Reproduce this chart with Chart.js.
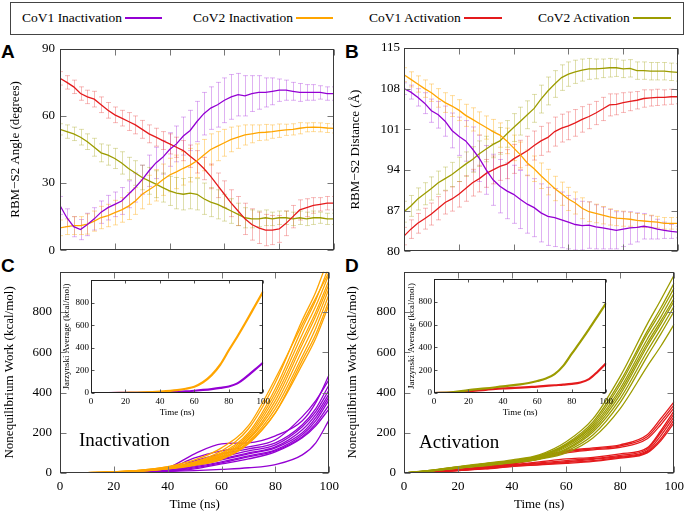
<!DOCTYPE html>
<html><head><meta charset="utf-8">
<script src="https://cdn.jsdelivr.net/npm/chart.js@4.4.1/dist/chart.umd.min.js"></script>
<style>
html,body{margin:0;padding:0;background:#fff;width:690px;height:514px;overflow:hidden;position:relative;font-family:'Liberation Serif','Times New Roman',serif;}
canvas{position:absolute;}
.t{position:absolute;white-space:nowrap;color:#000;}
.leg{font-size:13.5px;line-height:16px;top:10px;}
.ls{position:absolute;height:2px;top:17px;}
.letter{position:absolute;font-family:'Liberation Sans',Arial,sans-serif;font-weight:bold;font-size:19px;line-height:19px;color:#000;}
.big{font-size:19px;line-height:19px;}
#legbox{position:absolute;left:10px;top:2px;width:672px;height:31px;border:1px solid #444;}
</style>
</head><body>
<div id="legbox"></div>
<div class="t leg" style="left:22px">CoV1 Inactivation</div><div class="ls" style="left:125px;width:37px;background:#9400d3"></div>
<div class="t leg" style="left:193px">CoV2 Inactivation</div><div class="ls" style="left:296px;width:37px;background:#ffa500"></div>
<div class="t leg" style="left:369px">CoV1 Activation</div><div class="ls" style="left:464px;width:38px;background:#e41a1c"></div>
<div class="t leg" style="left:538px">CoV2 Activation</div><div class="ls" style="left:633px;width:38px;background:#9c9c00"></div>
<div class="letter" style="left:1px;top:42px">A</div>
<div class="letter" style="left:345px;top:42px">B</div>
<div class="letter" style="left:1px;top:256px">C</div>
<div class="letter" style="left:345px;top:256px">D</div>
<script>
// ---------- data ----------
const timeAB = [0,2.5,5,7.5,10,12.5,15,17.5,20,22.5,25,27.5,30,32.5,35,37.5,40,42.5,45,47.5,50,52.5,55,57.5,60,62.5,65,67.5,70,72.5,75,77.5,80,82.5,85,87.5,90,92.5,95,97.5,100];

const angleCoV1Inact = [20,14.5,10.5,9.2,11.5,14,17,19,20.5,22,25,28,31.5,35.5,39,41.5,45,47.5,51,53.5,57.5,61,63.5,65,67,68.5,69.5,69,70,70.5,70.5,71,71.5,71.5,71,70.5,70.5,70.5,70.5,70,70];
const angleCoV1InactErr = [4,4,4.5,4.5,5,5,5,5.5,5.5,6,6,6.5,6.5,7,7,7.5,7.5,8,8.5,9,9,9.5,9.5,10,10,10,9.5,9,8,7.5,6.5,6,5,4.5,4,4,3.5,3.5,3,3,3];
const angleCoV2Inact = [10,10.5,11,11,11.7,13,14.6,15.5,16.8,18,19.7,22,25,27,29,31.5,33.6,35,36.6,38,40,42.5,45,46.5,48,49.5,50.5,51.5,52,52.5,52.7,53,53.4,53.8,54,54.5,54.9,55,54.9,54.6,54.4];
const angleCoV2InactErr = [3.5,3.5,4,4,4.5,4.5,5,5,5.5,5.5,6,6,6.5,6.5,7,7,7.5,7.5,7.5,7.5,7.5,7,7,6.5,6,5.5,5,4.5,4,3.5,3.5,3,3,2.5,2.5,2.5,2,2,2,2,2];
const angleCoV1Act = [76.8,75,73,70,68.5,67.5,65,62.5,60.5,59,57.5,56,54,52,50.5,49,47.5,46,44.5,42,39.5,36.5,33,29,25,21,17.5,14,11.5,10,9,9,9.5,12,15,18,19,20,20.5,21,21];
const angleCoV1ActErr = [3,3,3,3,3,3.5,3.5,3.5,3.5,3.5,4,4,4,4,4,4,4.5,4.5,4.5,5,5,5,5.5,5.5,6,6,6.5,7,7,7,7,6.5,6,5.5,5,4.5,4,3.5,3,3,3];
const angleCoV2Act = [54,53,52,50.5,48.5,46,43.5,42.5,41,39,36.5,34.5,32.5,31,29.5,28,26.5,25.5,25,25.5,25,23,21.5,20.5,19,17.5,16,14.5,14,14,14.5,14,14.5,14.5,14,14.5,14,14.5,14.5,14,14];
const angleCoV2ActErr = [2.5,3,3,3.5,3.5,4,4,4.5,4.5,5,5,5.5,5.5,6,6,6.5,6.5,7,7,7,7,7,6.5,6.5,6,5.5,5,4.5,4,3.5,3.5,3,3,3,3,3,3,3,2.5,2.5,2.5];

const distCoV1Inact = [108,107.4,106.5,105.5,104.2,103.5,102.4,100.8,99.8,99,97.6,96,94,92.3,91.2,90.4,89.8,88.9,88.1,87.5,86.6,86,85.8,85.4,85,84.6,84.4,84.5,84.2,84,83.8,83.6,83.8,84,84.1,84.3,84.1,83.8,83.6,83.4,83.3];
const distCoV1InactErr = [1,1.2,1.5,1.8,2,2.3,2.6,3,3.3,3.5,3.8,4,4.2,4.4,4.6,4.8,5,5,5,5,5,5,5,4.8,4.6,4.4,4.2,4,3.8,3.6,3.4,3.2,3,2.8,2.5,2.2,2,1.7,1.4,1.2,1];
const distCoV2Inact = [110.4,109.6,108.8,108,107.3,106.4,105.6,105,104.3,103.4,102.7,102,101.3,100.6,100,99,97.8,96.6,95.2,94.2,93,91.9,90.8,89.9,89,88.3,87.4,86.8,86.5,86.2,85.9,85.7,85.6,85.5,85.3,85.2,85.1,85,84.8,84.8,84.8];
const distCoV2InactErr = [1.2,1.3,1.4,1.5,1.5,1.6,1.7,1.8,1.8,1.9,2,2,2,2.1,2.1,2.2,2.2,2.2,2.2,2.2,2.2,2.2,2.1,2,2,1.9,1.8,1.7,1.6,1.5,1.4,1.3,1.3,1.2,1.2,1.1,1.1,1,1,1,1];
const distCoV1Act = [82.6,83.8,84.8,85.6,86.4,87.4,88.4,89,89.8,90.8,91.8,92.5,93.4,94,94.6,95,95.9,96.6,97.3,98.2,99,99.6,100.6,101.2,101.6,102.1,102.7,103.2,103.8,104.5,105.2,105.3,105.6,105.8,106,106.3,106.4,106.5,106.5,106.6,106.6];
const distCoV1ActErr = [1.5,1.6,1.7,1.8,1.9,2,2,2.1,2.2,2.2,2.3,2.3,2.4,2.4,2.4,2.5,2.5,2.5,2.5,2.5,2.5,2.5,2.5,2.4,2.4,2.3,2.2,2.1,2,2,1.9,1.8,1.7,1.6,1.5,1.5,1.4,1.4,1.3,1.3,1.2];
const distCoV2Act = [86.8,87.8,89,89.9,90.8,91.8,92.5,93.2,94.1,95,95.8,96.8,97.6,98.4,99,100.2,101.3,102.4,103.5,104.6,106.2,107.6,108.8,109.9,110.5,110.9,111.2,111.4,111.4,111.5,111.6,111.6,111.4,111.5,111.1,111.1,111,111,111,110.9,110.8];
const distCoV2ActErr = [1.8,1.8,1.9,1.9,2,2,2,2.1,2.1,2.1,2.2,2.2,2.2,2.3,2.3,2.3,2.4,2.4,2.4,2.4,2.4,2.4,2.3,2.2,2.1,2,1.9,1.8,1.7,1.6,1.6,1.5,1.5,1.5,1.5,1.5,1.5,1.5,1.5,1.5,1.5];

const timeWork = [0,10,20,30,40,50,60,70,80,90,95,100];
const workCoV2Inact = [
  [0,2,6,14,30,55,110,220,450,760,900,1080],
  [0,2,6,13,28,52,100,200,420,720,860,1030],
  [0,2,5,12,26,50,95,190,400,690,830,990],
  [0,2,5,12,25,48,90,180,380,660,800,960],
  [0,1,5,11,24,46,85,170,360,640,780,940],
  [0,1,4,11,23,44,80,165,340,610,750,920],
  [0,1,4,10,22,42,75,155,320,580,720,890],
  [0,1,4,10,21,40,70,150,300,560,690,860],
  [0,1,4,10,20,38,68,145,300,540,670,840],
  [0,2,6,14,32,65,125,235,470,740,870,1000]
];
const workCoV1Inact = [
  [0,1,3,6,25,95,145,150,185,260,350,490],
  [0,1,3,6,20,75,110,130,165,280,360,465],
  [0,1,3,6,15,60,95,120,150,240,320,440],
  [0,1,2,5,12,45,80,110,140,230,305,415],
  [0,1,2,5,12,40,70,100,130,215,290,395],
  [0,1,2,5,10,35,65,95,125,200,275,380],
  [0,1,2,4,10,30,55,85,115,190,260,365],
  [0,1,2,4,8,25,50,80,110,180,245,340],
  [0,1,2,4,8,20,45,70,105,175,235,320],
  [0,1,2,4,8,12,18,26,42,90,150,265]
];
const workCoV2Act = [
  [0,14,32,48,65,90,155,270,480,740,860,985],
  [0,13,30,46,62,86,145,255,455,705,820,945],
  [0,13,30,45,60,84,140,245,440,690,800,920],
  [0,12,28,44,58,80,135,235,420,665,775,895],
  [0,12,28,42,57,78,128,225,405,645,755,870],
  [0,11,26,40,55,75,120,215,390,630,740,855],
  [0,11,26,40,54,72,115,205,370,605,715,830],
  [0,10,24,38,52,70,108,190,350,580,690,805],
  [0,10,24,36,50,68,100,175,320,530,630,740]
];
const workCoV1Act = [
  [0,6,18,32,48,80,110,125,140,190,270,355],
  [0,6,17,30,46,75,105,120,135,180,255,340],
  [0,5,16,28,44,70,100,115,128,170,240,325],
  [0,5,15,26,40,55,70,78,95,125,210,310],
  [0,5,14,25,38,50,62,72,88,118,200,295],
  [0,4,13,24,36,46,56,68,82,110,185,280],
  [0,4,12,22,34,42,52,62,78,105,170,265],
  [0,4,12,20,32,40,48,58,74,100,160,250]
];

const timeJar = [0,10,20,30,40,50,55,60,65,70,75,80,85,90,95,100];
const jarCoV2Inact = [0,0,2,5,12,25,38,56,95,158,250,378,500,630,765,900];
const jarCoV1Inact = [0,0,1,2,5,10,14,20,27,35,45,58,85,140,204,270];
const jarCoV2Act = [0,5,25,40,58,75,88,105,127,165,238,345,450,560,675,790];
const jarCoV1Act = [0,3,17,28,40,48,52,56,62,68,73,80,92,122,187,262];

const timeTicks = [0,20,40,60,80,100];
const timeTickLabels = ['0','20','40','60','80','100'];
const angleTicks = [0,30,60,90];
const angleTickLabels = ['0','30','60','90'];
const distTicks = [80,87,94,101,108,115];
const distTickLabels = ['80','87','94','101','108','115'];
const workTicks = [0,200,400,600,800,1000];
const workTickLabels = ['0','200','400','600','800',''];

const C_PURPLE = '#9400d3', C_ORANGE = '#ffa500', C_RED = '#e41a1c', C_OLIVE = '#9c9c00';
const E_PURPLE = 'rgba(148,0,211,0.30)', E_ORANGE = 'rgba(255,165,0,0.38)', E_RED = 'rgba(228,26,28,0.30)', E_OLIVE = 'rgba(156,156,0,0.32)';
const SERIF = "'Liberation Serif','Times New Roman',serif";

// ---------- plugins ----------
const errorBarPlugin = {
  id: 'errbars',
  beforeDatasetsDraw(chart) {
    const {ctx, chartArea: a} = chart;
    const xs = chart.scales.x, ys = chart.scales.y;
    ctx.save();
    ctx.beginPath(); ctx.rect(a.left, a.top, a.right - a.left, a.bottom - a.top); ctx.clip();
    chart.data.datasets.forEach(ds => {
      if (!ds.errors) return;
      ctx.strokeStyle = ds.errorColor; ctx.lineWidth = 1;
      ds.data.forEach((p, i) => {
        const e = ds.errors[i];
        const px = Math.round(xs.getPixelForValue(p.x)) + 0.5;
        const y1 = ys.getPixelForValue(p.y - e), y2 = ys.getPixelForValue(p.y + e);
        ctx.beginPath();
        ctx.moveTo(px, y1); ctx.lineTo(px, y2);
        ctx.moveTo(px - 2.5, y1); ctx.lineTo(px + 2.5, y1);
        ctx.moveTo(px - 2.5, y2); ctx.lineTo(px + 2.5, y2);
        ctx.stroke();
      });
    });
    ctx.restore();
  }
};
const framePlugin = {
  id: 'frame',
  beforeDatasetsDraw(chart, args, o) {
    if (!o || !o.fill) return;
    const {ctx, chartArea: a} = chart;
    ctx.save(); ctx.fillStyle = '#fff'; ctx.fillRect(a.left, a.top, a.right - a.left, a.bottom - a.top); ctx.restore();
  },
  afterDatasetsDraw(chart, args, o) {
    if (!o || !o.tick) return;
    const {ctx, chartArea: a} = chart;
    const xs = chart.scales.x, ys = chart.scales.y;
    const L = Math.round(a.left) + 0.5, R = Math.round(a.right) - 0.5, T = Math.round(a.top) + 0.5, B = Math.round(a.bottom) - 0.5;
    const t = o.tick;
    ctx.save();
    ctx.strokeStyle = o.tickColor; ctx.lineWidth = 1;
    ctx.beginPath();
    xs.ticks.forEach(tk => { const px = Math.round(xs.getPixelForValue(tk.value)) + 0.5; ctx.moveTo(px, B); ctx.lineTo(px, B - t); ctx.moveTo(px, T); ctx.lineTo(px, T + t); });
    ys.ticks.forEach(tk => { const py = Math.round(ys.getPixelForValue(tk.value)) + 0.5; ctx.moveTo(L, py); ctx.lineTo(L + t, py); ctx.moveTo(R, py); ctx.lineTo(R - t, py); });
    ctx.stroke();
    ctx.strokeStyle = o.color; ctx.lineWidth = o.width || 1;
    ctx.strokeRect(L, T, R - L, B - T);
    ctx.restore();
  }
};
Chart.register(errorBarPlugin, framePlugin);
Chart.defaults.font.family = SERIF;
Chart.defaults.color = '#000';

// ---------- helpers ----------
function axis(kind, o, ticks, labels, size) {
  return {
    type: 'linear', min: ticks[0], max: ticks[ticks.length - 1],
    afterBuildTicks: s => { s.ticks = ticks.map(v => ({value: v})); },
    afterFit: s => { if (kind === 'x') s.height = size; else s.width = size; },
    grid: {display: false, drawTicks: false}, border: {display: false},
    ticks: {display: o.show, padding: o.pad, autoSkip: false, maxRotation: 0, minRotation: 0,
            font: {size: o.fs, family: SERIF}, color: '#000', callback: (v, i) => labels[i]},
    title: {display: !!o.title, text: o.title || '', color: '#000', font: {size: o.fs, family: SERIF},
            padding: kind === 'x' ? {top: 0, bottom: o.tpad} : {top: o.tpad, bottom: 0}}
  };
}
function makeChart(box, area, datasets, xo, yo, frame) {
  const cv = document.createElement('canvas');
  cv.width = box[2]; cv.height = box[3];
  Object.assign(cv.style, {left: box[0] + 'px', top: box[1] + 'px', width: box[2] + 'px', height: box[3] + 'px'});
  document.body.appendChild(cv);
  const yW = area[0] - box[0], padTop = area[1] - box[1], padRight = box[0] + box[2] - area[2], xH = box[1] + box[3] - area[3];
  return new Chart(cv.getContext('2d'), {
    type: 'line',
    data: {datasets},
    options: {
      responsive: false, animation: false, devicePixelRatio: 1, events: [],
      layout: {padding: {left: 0, top: padTop, right: padRight, bottom: 0}},
      plugins: {legend: {display: false}, tooltip: {enabled: false}, frame},
      elements: {point: {radius: 0}},
      scales: {x: axis('x', xo, timeTicks, timeTickLabels, xH), y: axis('y', yo, yo.ticks, yo.labels, yW)}
    }
  });
}
function series(t, v, color, width, extra) {
  return Object.assign({data: t.map((x, i) => ({x, y: v[i]})), borderColor: color, borderWidth: width,
    pointRadius: 0, tension: 0, fill: false}, extra || {});
}
function smooth(t, v, color, width) {
  return series(t, v, color, width, {cubicInterpolationMode: 'monotone'});
}

const mainFrame = {tick: 6, color: '#3a3a3a', tickColor: '#777', width: 1};
const insetFrame = {tick: 3, color: '#222', tickColor: '#555', width: 1, fill: true};

// Panel A
makeChart([0, 36, 345, 227], [60, 48, 334, 253], [
  series(timeAB, angleCoV1Inact, C_PURPLE, 1.3, {errors: angleCoV1InactErr, errorColor: E_PURPLE}),
  series(timeAB, angleCoV2Inact, C_ORANGE, 1.3, {errors: angleCoV2InactErr, errorColor: E_ORANGE}),
  series(timeAB, angleCoV1Act, C_RED, 1.3, {errors: angleCoV1ActErr, errorColor: E_RED}),
  series(timeAB, angleCoV2Act, C_OLIVE, 1.3, {errors: angleCoV2ActErr, errorColor: E_OLIVE})
], {show: false, pad: 0, fs: 13}, {show: true, pad: 5, fs: 13, ticks: angleTicks, labels: angleTickLabels, title: 'RBM\u2212S2 Angle (degrees)', tpad: 8.2}, mainFrame);

// Panel B
makeChart([345, 36, 345, 227], [404, 48, 678, 253], [
  series(timeAB, distCoV1Inact, C_PURPLE, 1.3, {errors: distCoV1InactErr, errorColor: E_PURPLE}),
  series(timeAB, distCoV2Inact, C_ORANGE, 1.3, {errors: distCoV2InactErr, errorColor: E_ORANGE}),
  series(timeAB, distCoV1Act, C_RED, 1.3, {errors: distCoV1ActErr, errorColor: E_RED}),
  series(timeAB, distCoV2Act, C_OLIVE, 1.3, {errors: distCoV2ActErr, errorColor: E_OLIVE})
], {show: false, pad: 0, fs: 13}, {show: true, pad: 4, fs: 13, ticks: distTicks, labels: distTickLabels, title: 'RBM\u2212S2 Distance (\u00c5)', tpad: 3.2}, mainFrame);

// Panel C
makeChart([0, 256, 345, 258], [60, 268, 333, 473], [
  ...workCoV2Inact.map(v => smooth(timeWork, v, C_ORANGE, 1.3)),
  ...workCoV1Inact.map(v => smooth(timeWork, v, C_PURPLE, 1.3))
], {show: true, pad: 6, fs: 13, title: 'Time (ns)', tpad: 1.2},
   {show: true, pad: 8, fs: 13, ticks: workTicks, labels: workTickLabels, title: 'Nonequilibrium Work (kcal/mol)', tpad: 1.4}, mainFrame);

// Panel D
makeChart([345, 256, 345, 258], [404, 268, 678, 473], [
  ...workCoV2Act.map(v => smooth(timeWork, v, C_OLIVE, 1.3)),
  ...workCoV1Act.map(v => smooth(timeWork, v, C_RED, 1.3))
], {show: true, pad: 6, fs: 13, title: 'Time (ns)', tpad: 1.2},
   {show: true, pad: 8, fs: 13, ticks: workTicks, labels: workTickLabels, title: 'Nonequilibrium Work (kcal/mol)', tpad: 0}, mainFrame);

// Inset C
makeChart([55, 270, 218, 155], [91, 280, 264, 393], [
  smooth(timeJar, jarCoV2Inact, C_ORANGE, 2.2),
  smooth(timeJar, jarCoV1Inact, C_PURPLE, 2.2)
], {show: true, pad: 3, fs: 9, title: 'Time (ns)', tpad: 7},
   {show: true, pad: 2, fs: 9, ticks: workTicks, labels: workTickLabels, title: 'Jarzynski Average (kcal/mol)', tpad: 6.3}, insetFrame);

// Inset D
makeChart([398, 269, 218, 156], [434, 279, 607, 393], [
  smooth(timeJar, jarCoV2Act, C_OLIVE, 2.2),
  smooth(timeJar, jarCoV1Act, C_RED, 2.2)
], {show: true, pad: 3, fs: 9, title: 'Time (ns)', tpad: 7},
   {show: true, pad: 2, fs: 9, ticks: workTicks, labels: workTickLabels, title: 'Jarzynski Average (kcal/mol)', tpad: 8.3}, insetFrame);
</script>
<div class="t big" style="left:79px;top:430px">Inactivation</div>
<div class="t big" style="left:419px;top:432px">Activation</div>
</body></html>
